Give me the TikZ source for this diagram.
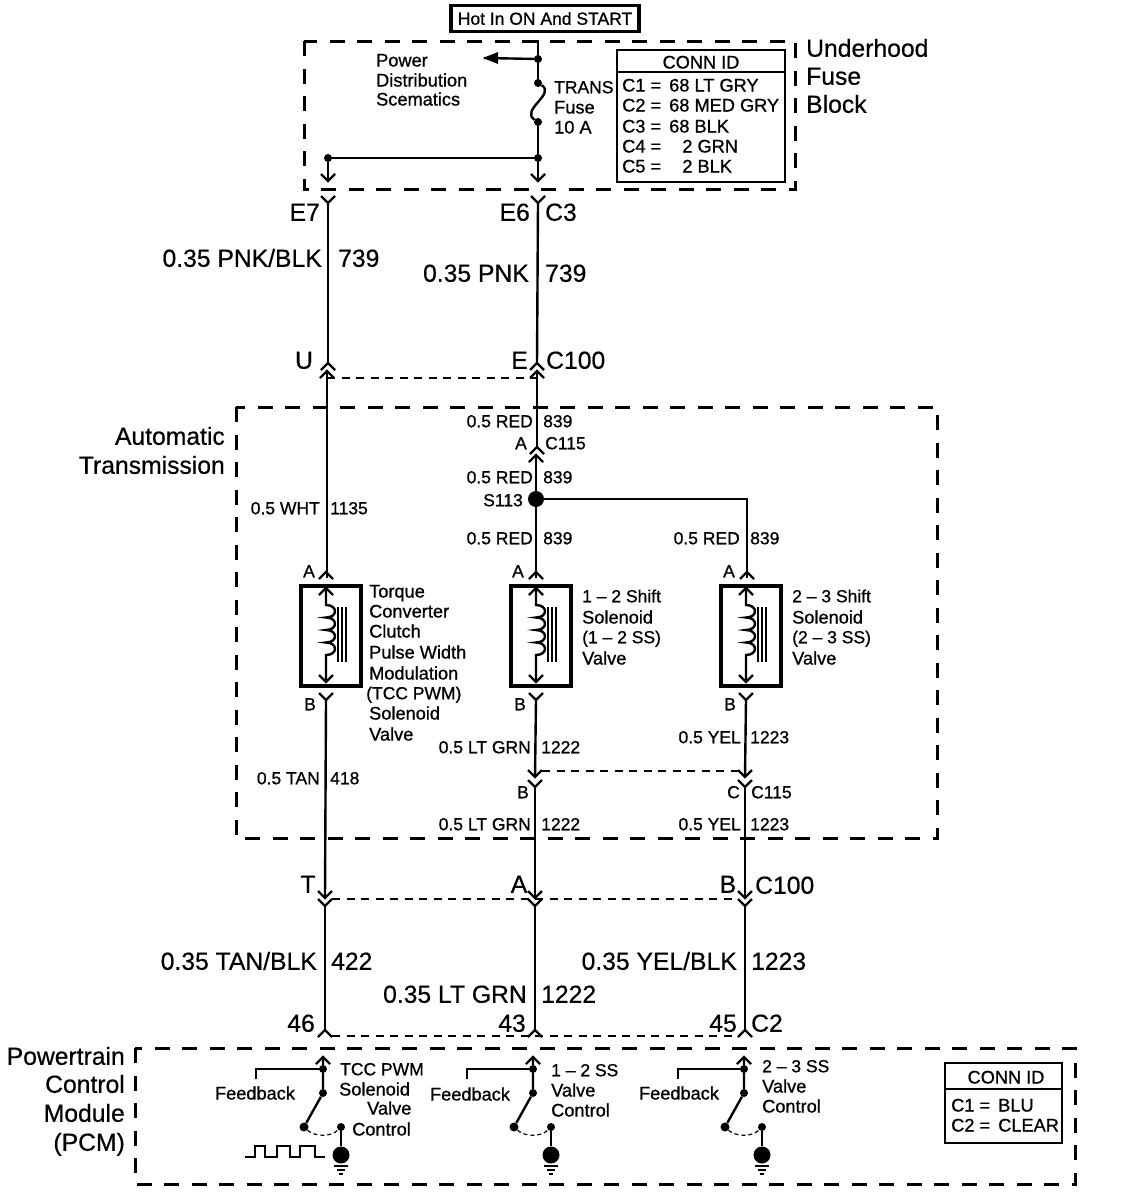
\documentclass[tikz,border=0pt]{standalone}
\usepackage{fontspec}
\setmainfont[FakeBold=0.8]{Liberation Sans}
\newfontfamily\largefont[FakeBold=0.5]{Liberation Sans}
\tikzset{
  wire/.style={line width=2.4pt,line join=miter},
  thin wire/.style={line width=1.6pt},
  zone/.style={line width=3pt,dash pattern=on 15pt off 12.5pt},
  link/.style={line width=1.6pt,dash pattern=on 8pt off 6.5pt},
  frame/.style={draw,line width=3.6pt},
  idbox/.style={draw,line width=2.6pt},
  dot/.style={circle,fill=black,inner sep=0pt,minimum size=#1},
  lg/.style={font=\largefont\fontsize{24.7}{25}\selectfont,inner sep=0pt,text height=17.5pt,text depth=0pt},
  sm/.style={font=\fontsize{17.5}{17}\selectfont,inner sep=0pt,text height=12.5pt,text depth=0pt},
  sb/.style={font=\fontsize{18.2}{18}\selectfont,inner sep=0pt,text height=13pt,text depth=0pt}
}
\newcommand{\chevup}[2]{\draw[wire] (#1-7,#2+7) -- (#1,#2) -- (#1+7,#2+7);}
\newcommand{\chevdn}[2]{\draw[wire] (#1-7,#2-7) -- (#1,#2) -- (#1+7,#2-7);}
% solenoid symbol, #1 = wire x, #2 = name prefix
\newcommand{\solenoidsym}[2]{%
  \node[draw,line width=4pt,minimum width=60pt,minimum height=100pt,inner sep=0pt] (#2box) at (#1+4.5,635.5) {};
  \draw[wire] (#1,588) -- (#1,605) .. controls (#1+12,605) and (#1+12,617.5) .. (#1,617.5)
     .. controls (#1+12,617.5) and (#1+12,630) .. (#1,630)
     .. controls (#1+12,630) and (#1+12,642.5) .. (#1,642.5)
     .. controls (#1+12,642.5) and (#1+12,655) .. (#1,655) -- (#1,682);
  \chevup{#1}{588}\chevdn{#1}{682}
  \draw[thin wire] (#1+12,607) -- (#1+12,662) (#1+16,607) -- (#1+16,662) (#1+20,607) -- (#1+20,662);
}
% PCM output driver, #1 wire x, #2 feedback hook x, #3 prefix
\newcommand{\driver}[3]{%
  \coordinate (#3top) at (#1,1057);
  \node[dot=8pt] (#3a) at (#1,1069) {};
  \node[dot=8pt] (#3b) at (#1,1093) {};
  \node[dot=9pt] (#3c) at (#1-19,1127) {};
  \node[dot=8pt] (#3d) at (#1+18,1127) {};
  \node[dot=17pt] (#3e) at (#1+18,1155) {};
  \coordinate (#3f) at (#2,1079);
  \draw[wire] (#3top) -- (#3a) -- (#3b) -- (#3c);
  \draw[wire] (#3d) -- (#3e);
  \draw[wire] (#3f) |- (#3a);
  \chevup{#1}{1057}
  \draw[line width=1.2pt,dash pattern=on 4pt off 3pt] (#3c) .. controls (#1-8,1137) and (#1+8,1137) .. (#3d);
  \draw[line width=1.5pt] (#1+11,1166) -- (#1+25,1166) (#1+14,1170) -- (#1+22,1170) (#1+16,1174) -- (#1+20,1174);
}
\begin{document}
\begin{tikzpicture}[x=1pt,y=-1pt]
\useasboundingbox (0,0) rectangle (1120,1202);
\fill[white] (0,0) rectangle (1120,1202);

% zones
\draw[zone] (304,41) rectangle (795,189);
\draw[zone] (236,407) rectangle (937,838);
\draw[zone] (135,1048) rectangle (1075,1184);

% top supply
\node[frame,minimum width=188pt,minimum height=26pt,inner sep=0pt,sm] (hot) at (545,18.5) {Hot In ON And START};
\coordinate (feedtop) at (538,40);
\node[dot=8pt] (j1) at (538,59) {};
\node[dot=8pt] (j2) at (538,83) {};
\node[dot=8pt] (j3) at (538,122) {};
\node[dot=8pt] (j4) at (538,158) {};
\node[dot=8pt] (j5) at (328,158) {};
\coordinate (e6out) at (538,181);
\coordinate (e7out) at (328,181);
\coordinate (pdarrow) at (484,58);
\draw[wire] (feedtop) -- (j1) -- (j2);
\draw[wire] (j2) .. controls (556,94) and (520,110) .. (j3);
\draw[wire] (j3) -- (j4) -- (e6out);
\draw[wire] (j4) -- (j5) -- (e7out);
\draw[wire] (j1) -- (pdarrow);
\fill (483,58) -- (498,52) -- (498,64) -- cycle;
\chevdn{538}{181}\chevdn{328}{181}

\node[sb,anchor=west] (t1) at (376,60) {Power};
\node[sb,anchor=west] (t2) at (376,80) {Distribution};
\node[sb,anchor=west] (t3) at (376,99) {Scematics};
\node[sm,anchor=west] (t4) at (554,87) {TRANS};
\node[sb,anchor=west] (t5) at (554,107) {Fuse};
\node[sb,anchor=west] (t6) at (554,127) {10 A};

\node[idbox,minimum width=168pt,minimum height=132pt,inner sep=0pt] (idA) at (701,116) {};
\draw[line width=2.6pt] (idA.west |- 0,72) coordinate (idAl) -- (idA.east |- 0,72) coordinate (idAr);
\node[sb] (idAt) at (701,62) {CONN ID};
\node[sb,anchor=west] (c1) at (622,85) {C1 = \,68 LT GRY};
\node[sb,anchor=west] (c2) at (622,105) {C2 = \,68 MED GRY};
\node[sb,anchor=west] (c3) at (622,126) {C3 = \,68 BLK};
\node[sb,anchor=west] (c4) at (622,146) {C4 = \,\phantom{6}\,2 GRN};
\node[sb,anchor=west] (c5) at (622,166) {C5 = \,\phantom{6}\,2 BLK};

\node[lg,anchor=west] (u1) at (806,48) {Underhood};
\node[lg,anchor=west] (u2) at (806,76) {Fuse};
\node[lg,anchor=west] (u3) at (806,104) {Block};

% upper harness
\coordinate (a1) at (328,203); \coordinate (a2) at (538,203);
\coordinate (b1) at (328,363); \coordinate (b2) at (537,363);
\draw[wire] (a1) -- (b1);
\draw[wire] (a2) -- (b2);
\chevdn{328}{203}\chevdn{538}{203}
\chevup{328}{363}\chevup{537}{363}
\node[lg,anchor=east] (e7) at (320,212) {E7};
\node[lg,anchor=east] (e6) at (530,212) {E6};
\node[lg,anchor=west] (c3l) at (545,212) {C3};
\node[lg,anchor=east] (w1) at (322,258) {0.35 PNK/BLK};
\node[lg,anchor=west] (w2) at (338,258) {739};
\node[lg,anchor=east] (w3) at (529,273) {0.35 PNK};
\node[lg,anchor=west] (w4) at (545,273) {739};
\node[lg] (ul) at (304,360) {U};
\node[lg,anchor=east] (el) at (528,360) {E};
\node[lg,anchor=west] (c100a) at (546,360) {C100};

% connection C100 upper to transmission
\coordinate (d1) at (327,371); \coordinate (d2) at (537,371);
\chevup{327}{371}\chevup{537}{371}
\draw[link] (d1 |- 0,378) -- (d2 |- 0,378);
\coordinate (sol1top) at (327,578);
\draw[wire] (d1) -- (sol1top);
\chevup{326}{572}

\coordinate (c115up) at (537,447);
\coordinate (c115dn) at (536,455);
\draw[wire] (d2) -- (c115up);
\chevup{537}{447}
\chevup{536}{455}
\node[dot=16pt] (s113) at (536,499) {};
\draw[wire] (c115dn) -- (s113);
\coordinate (sol2top) at (536,578);
\coordinate (bend) at (747,499);
\coordinate (sol3top) at (747,578);
\draw[wire] (s113) -- (sol2top);
\draw[line width=1.8pt] (s113) -- (bend) -- (sol3top);
\chevup{536}{572}\chevup{747}{572}

\node[lg,anchor=east] (at1) at (225,436) {Automatic};
\node[lg,anchor=east] (at2) at (225,465) {Transmission};
\node[sm,anchor=east] (r1) at (533,421) {0.5 RED};
\node[sm,anchor=west] (r1n) at (543,421) {839};
\node[sm,anchor=east] (a115) at (527,443) {A};
\node[sm,anchor=west] (c115t) at (545,443) {C115};
\node[sm,anchor=east] (r2) at (533,477) {0.5 RED};
\node[sm,anchor=west] (r2n) at (543,477) {839};
\node[sm,anchor=east] (s113t) at (523,500) {S113};
\node[sm,anchor=east] (wh) at (320,508) {0.5 WHT};
\node[sm,anchor=west] (whn) at (330,508) {1135};
\node[sm,anchor=east] (r3) at (533,538) {0.5 RED};
\node[sm,anchor=west] (r3n) at (543,538) {839};
\node[sm,anchor=east] (r4) at (740,538) {0.5 RED};
\node[sm,anchor=west] (r4n) at (750,538) {839};
\node[sm] (as1) at (309,571) {A};
\node[sm] (as2) at (518,571) {A};
\node[sm] (as3) at (729,571) {A};

% solenoids
\solenoidsym{326}{sa}
\solenoidsym{536}{sb}
\solenoidsym{746}{sc}
\node[sb,anchor=west] (ta) at (369,591) {Torque};
\node[sb,anchor=west] (tb) at (369,611) {Converter};
\node[sb,anchor=west] (tc) at (369,631) {Clutch};
\node[sb,anchor=west] (td) at (369,652) {Pulse Width};
\node[sb,anchor=west] (te) at (369,673) {Modulation};
\node[sm,anchor=west] (tf) at (366,693) {(TCC PWM)};
\node[sb,anchor=west] (tg) at (369,713) {Solenoid};
\node[sb,anchor=west] (th) at (369,734) {Valve};
\node[sm,anchor=west] (ua) at (582,596) {1 -- 2 Shift};
\node[sb,anchor=west] (ub) at (582,617) {Solenoid};
\node[sm,anchor=west] (uc) at (582,637) {(1 -- 2 SS)};
\node[sb,anchor=west] (ud) at (582,658) {Valve};
\node[sm,anchor=west] (va) at (792,596) {2 -- 3 Shift};
\node[sb,anchor=west] (vb) at (792,617) {Solenoid};
\node[sm,anchor=west] (vc) at (792,637) {(2 -- 3 SS)};
\node[sb,anchor=west] (vd) at (792,658) {Valve};
\node[sm] (bs1) at (310,704) {B};
\node[sm] (bs2) at (520,704) {B};
\node[sm] (bs3) at (730,704) {B};

% below solenoids
\chevdn{326}{700}\chevdn{536}{700}\chevdn{746}{700}
\coordinate (f1) at (325,898); \coordinate (f2) at (535,777); \coordinate (f3) at (745,777);
\coordinate (s1b) at (326,700); \coordinate (s2b) at (536,700); \coordinate (s3b) at (746,700);
\draw[wire] (s1b) -- (f1);
\draw[wire] (s2b) -- (f2);
\draw[wire] (s3b) -- (f3);
\chevdn{535}{777}\chevdn{745}{777}
\draw[link] (542,771) -- (738,771);
\coordinate (g2) at (535,787); \coordinate (g3) at (745,787);
\chevdn{535}{787}\chevdn{745}{787}
\coordinate (f2b) at (535,898); \coordinate (f3b) at (745,898);
\draw[wire] (g2) -- (f2b);
\draw[wire] (g3) -- (f3b);
\chevdn{325}{898}\chevdn{535}{898}\chevdn{745}{898}

\node[sm,anchor=east] (gr1) at (531,747) {0.5 LT GRN};
\node[sm,anchor=west] (gr1n) at (541,747) {1222};
\node[sm,anchor=east] (ye1) at (741,737) {0.5 YEL};
\node[sm,anchor=west] (ye1n) at (750,737) {1223};
\node[sm,anchor=east] (ta1) at (320,778) {0.5 TAN};
\node[sm,anchor=west] (ta1n) at (330,778) {418};
\node[sm,anchor=east] (bc) at (529,792) {B};
\node[sm,anchor=east] (cc) at (740,792) {C};
\node[sm,anchor=west] (c115b) at (751,792) {C115};
\node[sm,anchor=east] (gr2) at (531,824) {0.5 LT GRN};
\node[sm,anchor=west] (gr2n) at (541,824) {1222};
\node[sm,anchor=east] (ye2) at (741,824) {0.5 YEL};
\node[sm,anchor=west] (ye2n) at (750,824) {1223};

% lower harness
\draw[link] (332,899) -- (738,899);
\chevdn{325}{906}\chevdn{535}{906}\chevdn{745}{906}
\coordinate (h1) at (325,906); \coordinate (h2) at (535,906); \coordinate (h3) at (745,906);
\coordinate (k1) at (325,1030); \coordinate (k2) at (535,1030); \coordinate (k3) at (745,1030);
\draw[wire] (h1) -- (k1);
\draw[wire] (h2) -- (k2);
\draw[wire] (h3) -- (k3);
\chevup{325}{1030}\chevup{535}{1030}\chevup{745}{1030}
\draw[link] (332,1036) -- (738,1036);

\node[lg] (tc1) at (308,884) {T};
\node[lg] (ac1) at (519,884) {A};
\node[lg] (bc1) at (728,884) {B};
\node[lg,anchor=west] (c100b) at (755,885) {C100};
\node[lg,anchor=east] (b1t) at (317,961) {0.35 TAN/BLK};
\node[lg,anchor=west] (b1n) at (331,961) {422};
\node[lg,anchor=east] (b2t) at (527,994) {0.35 LT GRN};
\node[lg,anchor=west] (b2n) at (541,994) {1222};
\node[lg,anchor=east] (b3t) at (737,961) {0.35 YEL/BLK};
\node[lg,anchor=west] (b3n) at (751,961) {1223};
\node[lg,anchor=east] (p46) at (315,1023) {46};
\node[lg,anchor=east] (p43) at (526,1023) {43};
\node[lg,anchor=east] (p45) at (737,1023) {45};
\node[lg,anchor=west] (c2l) at (751,1023) {C2};

% PCM
\driver{323}{256}{pa}
\driver{533}{467}{pb}
\driver{744}{678}{pc}
\draw[line width=1.8pt] (245,1157) -- (255,1157) -- (255,1146) -- (265,1146) -- (265,1157) -- (277,1157) -- (277,1146) -- (290,1146) -- (290,1157) -- (300,1157) -- (300,1146) -- (315,1146) -- (315,1157) -- (325,1157);
\node[lg,anchor=east] (pm1) at (125,1056) {Powertrain};
\node[lg,anchor=east] (pm2) at (125,1084) {Control};
\node[lg,anchor=east] (pm3) at (125,1113) {Module};
\node[lg,anchor=east] (pm4) at (125,1142) {(PCM)};
\node[sm,anchor=west] (x1) at (340,1069) {TCC PWM};
\node[sb,anchor=west] (x2) at (339,1089) {Solenoid};
\node[sb,anchor=west] (x3) at (367,1108) {Valve};
\node[sb,anchor=west] (x4) at (352,1129) {Control};
\node[sb] (fb1) at (255,1093) {Feedback};
\node[sb] (fb2) at (470,1094) {Feedback};
\node[sb] (fb3) at (679,1093) {Feedback};
\node[sm,anchor=west] (y1) at (551,1070) {1 -- 2 SS};
\node[sb,anchor=west] (y2) at (551,1090) {Valve};
\node[sb,anchor=west] (y3) at (551,1110) {Control};
\node[sm,anchor=west] (z1) at (762,1066) {2 -- 3 SS};
\node[sb,anchor=west] (z2) at (762,1086) {Valve};
\node[sb,anchor=west] (z3) at (762,1106) {Control};

\node[idbox,minimum width=117pt,minimum height=80pt,inner sep=0pt] (idB) at (1003.5,1103) {};
\draw[line width=2.6pt] (idB.west |- 0,1089) coordinate (idBl) -- (idB.east |- 0,1089) coordinate (idBr);
\node[sb] (idBt) at (1006,1077) {CONN ID};
\node[sb,anchor=west] (q1) at (951,1105) {C1 = \,BLU};
\node[sb,anchor=west] (q2) at (951,1125) {C2 = \,CLEAR};
\end{tikzpicture}
\end{document}
